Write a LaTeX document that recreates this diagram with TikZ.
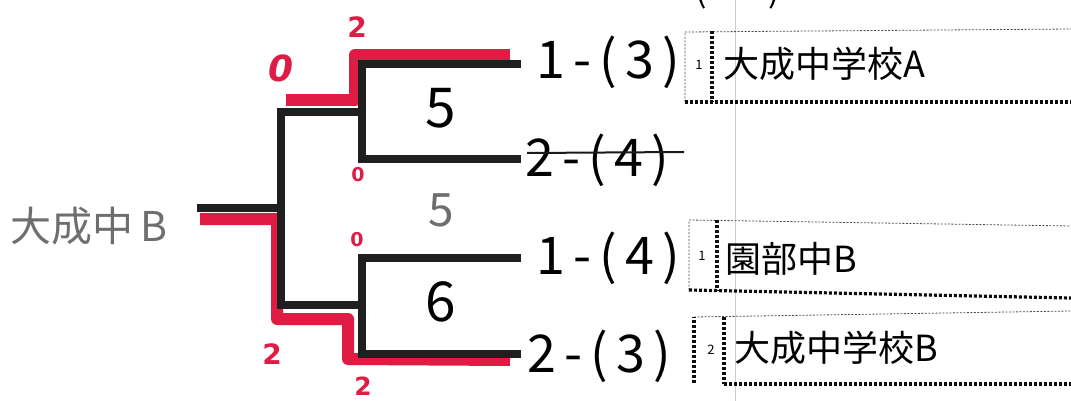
\documentclass[tikz,border=0pt]{standalone}
\usepackage{fontspec}
\newfontfamily\jp{Noto Sans CJK JP}
\newfontfamily\jpw{Noto Sans CJK JP}[LetterSpace=16]
\newfontfamily\rd{DejaVu Sans}
\definecolor{marker}{RGB}{222,28,68}
\definecolor{pencil}{RGB}{110,110,110}
\definecolor{rule}{RGB}{205,205,205}
\begin{document}
\begin{tikzpicture}[x=1pt,y=-1pt,
  bk/.style={line width=8pt, black!88, line cap=rect},
  rm/.style={line width=12pt, marker, line join=round},
  lab/.style={font=\jpw\fontsize{52}{56}\selectfont, inner sep=0pt, anchor=west},
  seed/.style={font=\jp\fontsize{55}{60}\selectfont, inner sep=0pt},
  team/.style={font=\jp\fontsize{36}{40}\selectfont, inner sep=0pt, anchor=west},
  small/.style={font=\jp\fontsize{13}{14}\selectfont, inner sep=0pt},
  score/.style={font=\rd\bfseries\fontsize{28}{30}\selectfont, text=marker, inner sep=0pt},
  scoresm/.style={font=\rd\bfseries\fontsize{19}{20}\selectfont, text=marker, inner sep=0pt},
  thinln/.style={line width=0.8pt, dash pattern=on 2pt off 1.5pt, black!70},
  thickdot/.style={line width=3.2pt, dash pattern=on 3pt off 2pt, black!95},
]
\useasboundingbox (0,0) rectangle (1071,401);
\fill[white] (0,0) rectangle (1071,401);

% faint ruled line of the sheet
\coordinate (r1) at (735,0); \coordinate (r2) at (735,401);
\draw[rule, line width=1pt] (r1) -- (r2);

% clipped text at the top
\node[font=\jp\fontsize{34}{36}\selectfont, inner sep=0pt, anchor=south] (topt) at (738,9) {(\hspace{62pt})};

% bracket coordinates
\coordinate (st) at (201,208);
\coordinate (sj) at (281,208);
\coordinate (ua) at (281,112);
\coordinate (la) at (281,305);
\coordinate (ub) at (362,112);
\coordinate (lb) at (362,305);
\coordinate (u1) at (362,64);  \coordinate (u1e) at (517,64);
\coordinate (u2) at (362,159); \coordinate (u2e) at (517,159);
\coordinate (l1) at (362,258); \coordinate (l1e) at (517,258);
\coordinate (l2) at (362,354); \coordinate (l2e) at (517,354);

% red marker (winning paths)
\coordinate (ra) at (286,100); \coordinate (rb) at (355,100);
\coordinate (rc) at (355,55);  \coordinate (rd) at (510,55);
\draw[rm] (ra) -- (rb) -- (rc) -- (rd);
\coordinate (rs) at (200,219); \coordinate (rt) at (277,219);
\coordinate (ru) at (277,319); \coordinate (rv) at (348,319);
\coordinate (rw) at (348,359); \coordinate (rx) at (510,360);
\draw[rm] (rs) -- (rt) -- (ru) -- (rv) -- (rw) -- (rx);

% black bracket
\draw[bk] (st) -- (sj);
\draw[bk] (ua) -- (la);
\draw[bk] (ua) -- (ub);
\draw[bk] (la) -- (lb);
\draw[bk] (u1) -- (u2);
\draw[bk] (l1) -- (l2);
\draw[bk] (u1) -- (u1e);
\draw[bk] (u2) -- (u2e);
\draw[bk] (l1) -- (l1e);
\draw[bk] (l2) -- (l2e);

% match numbers
\node[seed] (m5) at (441,108) {5};
\node[seed] (m6) at (441,302) {6};
\node[font=\jp\fontsize{46}{50}\selectfont, text=pencil, inner sep=0pt] (g5) at (441,210) {5};

% winner (pencil)
\node[font=\jp\fontsize{41}{46}\selectfont, text=pencil, inner sep=0pt] (win) at (89,226) {大成中\,B};

% red scores
\node[score] (s1) at (357,27) {2};
\node[score, font=\rd\bfseries\itshape\fontsize{36}{38}\selectfont] (s2) at (281,68) {0};
\node[scoresm] (s3) at (358,175) {0};
\node[scoresm] (s4) at (357,240) {0};
\node[score] (s5) at (272,354) {2};
\node[score, font=\rd\bfseries\fontsize{25}{27}\selectfont] (s6) at (363,386) {2};

% slot labels
\node[lab] (p1) at (536,62) {1-(3)};
\node[lab] (p2) at (525,160) {2-(4)};
\node[lab] (p3) at (536,258) {1-(4)};
\node[lab] (p4) at (527,356) {2-(3)};
\coordinate (k1) at (527,153); \coordinate (k2) at (684,152);
\draw[line width=2pt, black!90] (k1) -- (k2);

% entry boxes
\coordinate (a1) at (685,102); \coordinate (a2) at (685,32); \coordinate (a3) at (1071,29);
\coordinate (a4) at (1071,102); \coordinate (a5) at (712,31); \coordinate (a6) at (712,102);
\draw[thinln] (a1) -- (a2) -- (a3);
\draw[thickdot] (a1) -- (a4);
\draw[thickdot] (a5) -- (a6);
\node[small] (n1) at (699,65) {1};
\node[team] (t1) at (723,64) {大成中学校A};

\coordinate (b1) at (689,290); \coordinate (b2) at (689,220); \coordinate (b3) at (1071,226);
\coordinate (b4) at (1071,298); \coordinate (b5) at (717,220); \coordinate (b6) at (717,291);
\draw[thinln] (b1) -- (b2) -- (b3);
\draw[thickdot] (b1) -- (b4);
\draw[thickdot] (b5) -- (b6);
\node[small] (n2) at (702,256) {1};
\node[team] (t2) at (725,259) {園部中B};

\coordinate (c1) at (694,383); \coordinate (c2) at (694,317); \coordinate (c3) at (1071,311);
\coordinate (c4) at (1071,384); \coordinate (c5) at (724,317); \coordinate (c6) at (724,384);
\draw[thinln] (c2) -- (c3);
\draw[thickdot] (c1) -- (c2);
\draw[thickdot] (c6) -- (c4);
\draw[thickdot] (c5) -- (c6);
\node[small] (n3) at (711,350) {2};
\node[team] (t3) at (734,348) {大成中学校B};
\end{tikzpicture}
\end{document}
